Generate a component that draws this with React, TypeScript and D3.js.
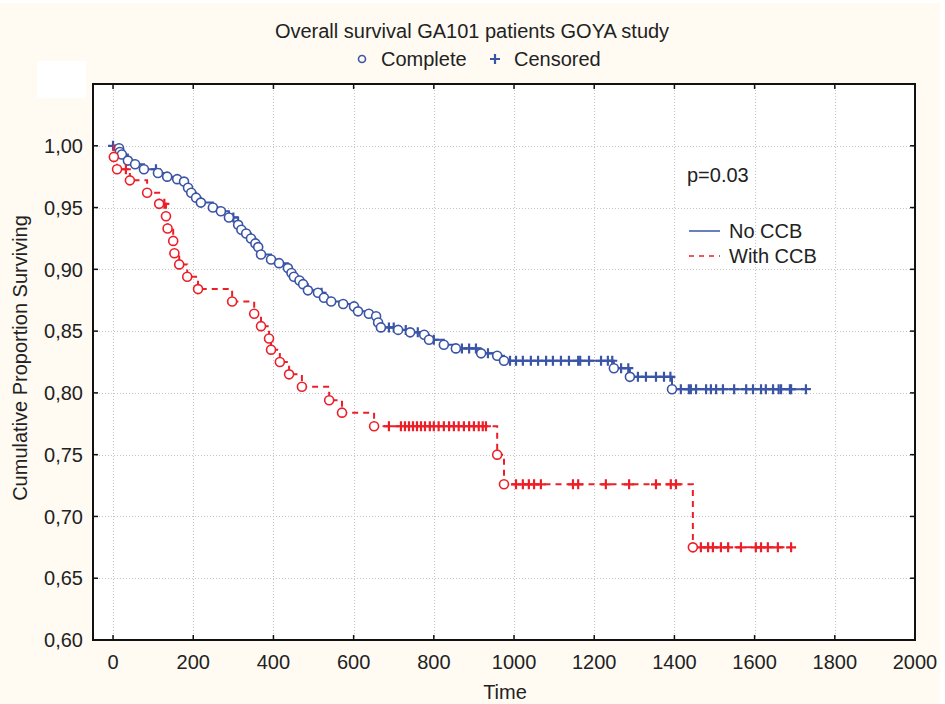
import React, { useEffect, useRef } from 'react';
import * as d3 from 'd3';

// Kaplan-Meier data (time in days, survival after event)
const noCcbEventTimes: number[] = [
  15, 17, 22, 37, 55, 77, 112, 135, 160, 177, 187, 195, 207, 219, 249, 269, 289, 312, 320, 332, 344, 355,
  362, 369, 394, 414, 436, 445, 451, 465, 474, 486, 511, 526, 544, 574, 601, 611, 638, 656, 661, 668, 711,
  741, 776, 788, 825, 855, 918, 958, 975, 1249, 1289, 1394,
];
const noCcbEventSurvival: number[] = [
  0.998, 0.995, 0.993, 0.988, 0.985, 0.981, 0.978, 0.975, 0.973, 0.971, 0.966, 0.962, 0.958, 0.954, 0.95,
  0.947, 0.942, 0.936, 0.932, 0.929, 0.925, 0.921, 0.918, 0.912, 0.908, 0.905, 0.901, 0.897, 0.894, 0.891,
  0.888, 0.883, 0.881, 0.877, 0.874, 0.872, 0.87, 0.866, 0.864, 0.862, 0.857, 0.853, 0.851, 0.849, 0.847,
  0.843, 0.839, 0.836, 0.832, 0.83, 0.826, 0.82, 0.813, 0.803,
];
const noCcbCensorTimes: number[] = [
  0, 107, 300, 520, 688, 700, 730, 760, 800, 870, 888, 905, 935, 990, 1005, 1022, 1042, 1060, 1080, 1097,
  1117, 1137, 1160, 1165, 1187, 1217, 1234, 1245, 1267, 1285, 1309, 1329, 1354, 1374, 1390, 1416, 1436,
  1441, 1454, 1479, 1491, 1504, 1521, 1549, 1579, 1596, 1616, 1628, 1646, 1660, 1666, 1688, 1691, 1728,
];

const withCcbEventTimes: number[] = [
  2, 10, 42, 85, 115, 132, 136, 150, 153, 165, 185, 212, 297, 352, 369, 389, 394, 416, 439, 471, 539, 571,
  651, 958, 975, 1446,
];
const withCcbEventSurvival: number[] = [
  0.991, 0.981, 0.972, 0.962, 0.953, 0.943, 0.933, 0.923, 0.913, 0.904, 0.894, 0.884, 0.874, 0.864, 0.854,
  0.844, 0.835, 0.825, 0.815, 0.805, 0.794, 0.784, 0.773, 0.75, 0.726, 0.675,
];
const withCcbCensorTimes: number[] = [
  32, 128, 688, 718, 728, 738, 748, 758, 768, 778, 790, 800, 812, 825, 838, 850, 862, 875, 888, 900, 912,
  922, 930, 1005, 1022, 1037, 1050, 1067, 1147, 1160, 1229, 1287, 1354, 1391, 1404, 1466, 1484, 1496, 1516,
  1534, 1566, 1603, 1616, 1633, 1658, 1691,
];

const xTicks: number[] = [0, 200, 400, 600, 800, 1000, 1200, 1400, 1600, 1800, 2000];
const yTicks: number[] = [0.6, 0.65, 0.7, 0.75, 0.8, 0.85, 0.9, 0.95, 1.0];

const BLUE = '#3a54a6';
const RED = '#ec1f28';
const FONT = '"Liberation Sans", Arial, sans-serif';

interface Series {
  times: number[];
  surv: number[];
  censors: number[];
  color: string;
  dashed: boolean;
}

const series: Series[] = [
  { times: noCcbEventTimes, surv: noCcbEventSurvival, censors: noCcbCensorTimes, color: BLUE, dashed: false },
  { times: withCcbEventTimes, surv: withCcbEventSurvival, censors: withCcbCensorTimes, color: RED, dashed: true },
];

// survival level at time t (step function)
const survAt = (s: Series, t: number): number => {
  let v = 1;
  s.times.forEach((et, i) => {
    if (et <= t) v = s.surv[i];
  });
  return v;
};

const App: React.FC = () => {
  const chartRef = useRef<SVGSVGElement | null>(null);

  useEffect(() => {
    if (!chartRef.current) return;
    const W = 945;
    const H = 704;
    const left = 93;
    const right = 915;
    const top = 84;
    const bottom = 640;

    d3.select(chartRef.current).selectAll('*').remove();
    const svg = d3.select(chartRef.current).attr('width', W).attr('height', H);

    // background
    svg.append('rect').attr('x', 0).attr('y', 0).attr('width', W).attr('height', H).attr('fill', '#ffffff');
    svg.append('rect').attr('x', 0).attr('y', 3).attr('width', 940).attr('height', H - 3).attr('fill', '#fffbf3');
    svg.append('rect').attr('x', 37).attr('y', 61).attr('width', 49).attr('height', 37).attr('fill', '#ffffff');
    svg
      .append('rect')
      .attr('x', left)
      .attr('y', top)
      .attr('width', right - left)
      .attr('height', bottom - top)
      .attr('fill', '#ffffff');

    const x = d3.scaleLinear().domain([-50, 2000]).range([left, right]);
    const y = d3.scaleLinear().domain([0.6, 1.05]).range([bottom, top]);

    // grid
    const grid = svg.append('g').attr('stroke', '#c4c4c4').attr('stroke-width', 1).attr('stroke-dasharray', '1,2');
    grid
      .selectAll('.vg')
      .data(xTicks.filter((d) => d < 2000))
      .enter()
      .append('line')
      .attr('x1', (d) => Math.round(x(d)) + 0.5)
      .attr('x2', (d) => Math.round(x(d)) + 0.5)
      .attr('y1', top)
      .attr('y2', bottom);
    grid
      .selectAll('.hg')
      .data(yTicks.filter((d) => d > 0.6))
      .enter()
      .append('line')
      .attr('y1', (d) => Math.round(y(d)) + 0.5)
      .attr('y2', (d) => Math.round(y(d)) + 0.5)
      .attr('x1', left)
      .attr('x2', right);

    // frame ticks (inward on all sides)
    const ticks = svg.append('g').attr('stroke', '#111').attr('stroke-width', 1.5);
    xTicks.forEach((t) => {
      ticks.append('line').attr('x1', x(t)).attr('x2', x(t)).attr('y1', bottom).attr('y2', bottom - 5);
      ticks.append('line').attr('x1', x(t)).attr('x2', x(t)).attr('y1', top).attr('y2', top + 5);
    });
    yTicks.forEach((t) => {
      ticks.append('line').attr('y1', y(t)).attr('y2', y(t)).attr('x1', left).attr('x2', left + 5);
      ticks.append('line').attr('y1', y(t)).attr('y2', y(t)).attr('x1', right).attr('x2', right - 5);
    });

    // tick labels
    const fmt = (v: number) => v.toFixed(2).replace('.', ',');
    svg
      .append('g')
      .selectAll('text')
      .data(yTicks)
      .enter()
      .append('text')
      .attr('x', left - 10)
      .attr('y', (d) => y(d))
      .attr('dy', '0.36em')
      .attr('text-anchor', 'end')
      .attr('font-family', FONT)
      .attr('font-size', 20)
      .attr('fill', '#222')
      .text(fmt);
    svg
      .append('g')
      .selectAll('text')
      .data(xTicks)
      .enter()
      .append('text')
      .attr('x', (d) => x(d))
      .attr('y', 669)
      .attr('text-anchor', 'middle')
      .attr('font-family', FONT)
      .attr('font-size', 20)
      .attr('fill', '#222')
      .text((d) => String(d));

    // axis titles
    svg
      .append('text')
      .attr('x', 505)
      .attr('y', 699)
      .attr('text-anchor', 'middle')
      .attr('font-family', FONT)
      .attr('font-size', 20)
      .attr('fill', '#222')
      .text('Time');
    svg
      .append('text')
      .attr('transform', 'translate(27,358) rotate(-90)')
      .attr('text-anchor', 'middle')
      .attr('font-family', FONT)
      .attr('font-size', 20)
      .attr('fill', '#222')
      .text('Cumulative Proportion Surviving');

    // title and top legend
    svg
      .append('text')
      .attr('x', 472)
      .attr('y', 38)
      .attr('text-anchor', 'middle')
      .attr('font-family', FONT)
      .attr('font-size', 20)
      .attr('fill', '#222')
      .text('Overall survival GA101 patients GOYA study');
    svg.append('circle').attr('cx', 362).attr('cy', 59).attr('r', 3.5).attr('fill', 'none').attr('stroke', BLUE).attr('stroke-width', 1.6);
    svg
      .append('text')
      .attr('x', 381)
      .attr('y', 66)
      .attr('font-family', FONT)
      .attr('font-size', 20)
      .attr('fill', '#222')
      .text('Complete');
    svg
      .append('path')
      .attr('d', 'M490,59H500M495,54V64')
      .attr('stroke', BLUE)
      .attr('stroke-width', 2.2);
    svg
      .append('text')
      .attr('x', 514)
      .attr('y', 66)
      .attr('font-family', FONT)
      .attr('font-size', 20)
      .attr('fill', '#222')
      .text('Censored');

    // curves
    series.forEach((s) => {
      const g = svg.append('g');
      const lastT = Math.max(d3.max(s.censors) || 0, d3.max(s.times) || 0);
      const path = d3.path();
      path.moveTo(x(0), y(1));
      s.times.forEach((t, i) => {
        path.lineTo(x(t), y(i === 0 ? 1 : s.surv[i - 1]));
        path.lineTo(x(t), y(s.surv[i]));
      });
      path.lineTo(x(lastT), y(s.surv[s.surv.length - 1]));
      g.append('path')
        .attr('d', path.toString())
        .attr('fill', 'none')
        .attr('stroke', s.color)
        .attr('stroke-width', 2)
        .attr('stroke-dasharray', s.dashed ? '6,5' : null);

      g.selectAll('.cens')
        .data(s.censors)
        .enter()
        .append('path')
        .attr('d', (t) => {
          const cx = x(t);
          const cy = y(survAt(s, t));
          return `M${cx - 5},${cy}H${cx + 5}M${cx},${cy - 5}V${cy + 5}`;
        })
        .attr('stroke', s.color)
        .attr('stroke-width', 2.2);

      g.selectAll('.evt')
        .data(s.times)
        .enter()
        .append('circle')
        .attr('cx', (t) => x(t))
        .attr('cy', (_t, i) => y(s.surv[i]))
        .attr('r', 4.5)
        .attr('fill', '#ffffff')
        .attr('stroke', s.color)
        .attr('stroke-width', 1.6);
    });

    // frame
    svg
      .append('rect')
      .attr('x', left)
      .attr('y', top)
      .attr('width', right - left)
      .attr('height', bottom - top)
      .attr('fill', 'none')
      .attr('stroke', '#111')
      .attr('stroke-width', 2);

    // in-plot legend
    svg
      .append('text')
      .attr('x', 687)
      .attr('y', 182)
      .attr('font-family', FONT)
      .attr('font-size', 20)
      .attr('fill', '#222')
      .text('p=0.03');
    svg.append('line').attr('x1', 689).attr('x2', 720).attr('y1', 231).attr('y2', 231).attr('stroke', BLUE).attr('stroke-width', 1.5);
    svg
      .append('text')
      .attr('x', 729)
      .attr('y', 238)
      .attr('font-family', FONT)
      .attr('font-size', 20)
      .attr('fill', '#222')
      .text('No CCB');
    svg
      .append('line')
      .attr('x1', 689)
      .attr('x2', 720)
      .attr('y1', 256)
      .attr('y2', 256)
      .attr('stroke', RED)
      .attr('stroke-width', 1.5)
      .attr('stroke-dasharray', '5,5');
    svg
      .append('text')
      .attr('x', 729)
      .attr('y', 263)
      .attr('font-family', FONT)
      .attr('font-size', 20)
      .attr('fill', '#222')
      .text('With CCB');
  }, []);

  return <svg ref={chartRef} style={{ position: 'absolute', left: 0, top: 0 }}></svg>;
};

export default App;
